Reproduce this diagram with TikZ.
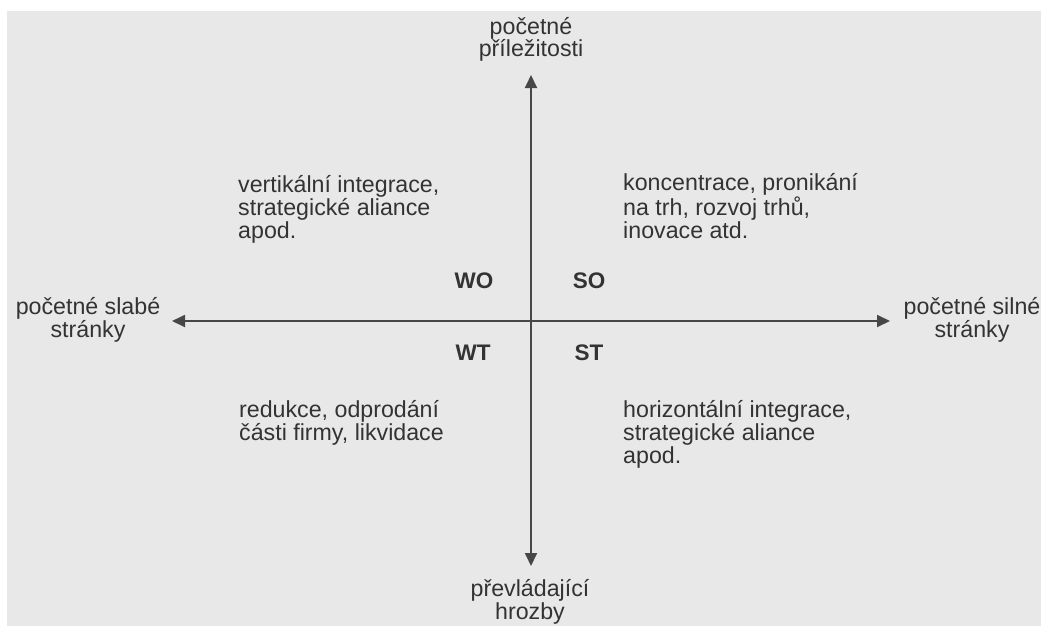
\documentclass[tikz,border=0pt]{standalone}
\usepackage{fontspec}
\setmainfont{Liberation Sans}
\usetikzlibrary{arrows.meta}
\definecolor{bg}{HTML}{E8E8E8}
\definecolor{ink}{HTML}{333333}
\definecolor{axiscol}{HTML}{474747}
\begin{document}
\begin{tikzpicture}[x=1pt,y=-1pt,
  lbl/.style={font=\fontsize{23.2}{23}\selectfont, text=ink, inner sep=0pt},
  axislbl/.style={lbl, align=center, anchor=base},
  quadtxt/.style={lbl, align=left, anchor=base west},
  quadtag/.style={lbl, font=\fontsize{22.5}{23}\selectfont\bfseries, anchor=base},
  axisline/.style={draw=axiscol, line width=1.8pt,
    {Triangle[length=13pt,width=12pt]}-{Triangle[length=13pt,width=12pt]}}]
\useasboundingbox (0,0) rectangle (1041,626);
\fill[bg] (7,11) rectangle (1041,626);
% axes end points
\coordinate (N) at (531,75);
\coordinate (S) at (531,566);
\coordinate (W) at (172,321);
\coordinate (E) at (890,321);
\draw[axisline] (S) -- (N);
\draw[axisline] (W) -- (E);
% axis labels (base anchor = last line's baseline)
\node[axislbl] (top) at (531,57) {početné\\příležitosti};
\node[axislbl] (left) at (88,337) {početné slabé\\stránky};
\node[axislbl] (right) at (972,337) {početné silné\\stránky};
\node[axislbl] (bottom) at (530,619) {převládající\\hrozby};
% quadrant tags
\node[quadtag] (wo) at (474,288) {WO};
\node[quadtag] (so) at (589,288) {SO};
\node[quadtag] (wt) at (473,360) {WT};
\node[quadtag] (st) at (589,360) {ST};
% quadrant texts
\node[quadtxt] (tl) at (238,238) {vertikální integrace,\\strategické aliance\\apod.};
\node[quadtxt] (tr) at (623,238) {koncentrace, pronikání\\na trh, rozvoj trhů,\\inovace atd.};
\node[quadtxt] (bl) at (239,440) {redukce, odprodání\\části firmy, likvidace};
\node[quadtxt] (br) at (623,463) {horizontální integrace,\\strategické aliance\\apod.};
\end{tikzpicture}
\end{document}
